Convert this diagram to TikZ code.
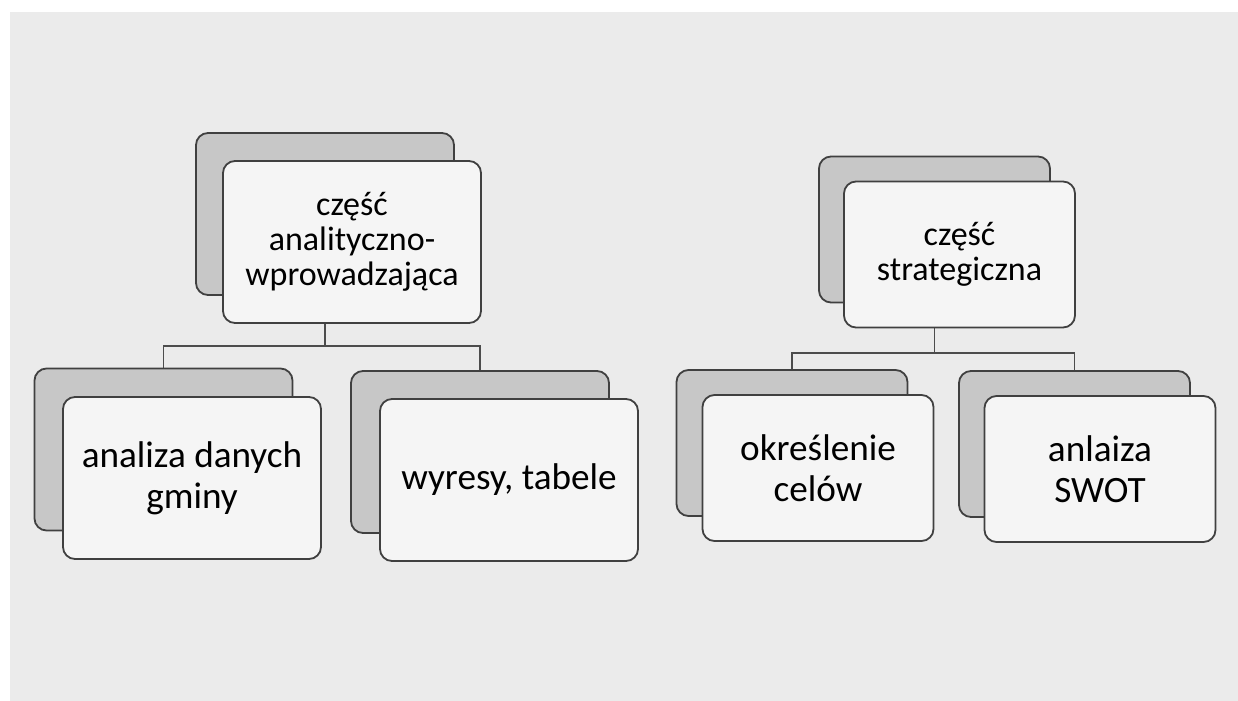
\documentclass[tikz,border=0pt]{standalone}
\usepackage{fontspec}
\setmainfont{Carlito}
\usetikzlibrary{backgrounds}

\tikzset{
  card/.style={draw=black!75, line width=0.9pt, rounded corners=6pt, align=center, inner sep=0pt},
  backcard/.style={card, fill=black!22},
  frontcard/.style={card, fill=black!4},
  leftsize/.style={minimum width=129pt, minimum height=81pt},
  rightsize/.style={minimum width=115.5pt, minimum height=73pt},
  toptext/.style={font=\fontsize{17}{17.5}\selectfont},
  subtext/.style={font=\fontsize{18.6}{20.5}\selectfont},
  link/.style={draw=black!70, line width=0.8pt},
}

\begin{document}
\begin{tikzpicture}[x=0.5pt,y=-0.5pt]
  \useasboundingbox (0,0) rectangle (1238,701);
  % left part
  \node[backcard,leftsize] (p1b) at (325,214) {};
  \node[frontcard,leftsize,toptext] (p1f) at (352,242) {część\\analityczno-\\wprowadzająca};
  \node[backcard,leftsize] (c1b) at (163.5,449.5) {};
  \node[frontcard,leftsize,subtext] (c1f) at (192,478) {analiza danych\\gminy};
  \node[backcard,leftsize] (c2b) at (480,452) {};
  \node[frontcard,leftsize,subtext] (c2f) at (509,480) {wyresy, tabele};
  % right part
  \node[backcard,rightsize] (p2b) at (934.5,229.5) {};
  \node[frontcard,rightsize,toptext] (p2f) at (959.5,254.5) {część\\strategiczna};
  \node[backcard,rightsize] (c3b) at (792,443) {};
  \node[frontcard,rightsize,subtext] (c3f) at (818,468) {określenie\\celów};
  \node[backcard,rightsize] (c4b) at (1074.5,444) {};
  \node[frontcard,rightsize,subtext] (c4f) at (1100,469) {anlaiza\\SWOT};
  % connectors behind the cards
  \begin{scope}[on background layer]
    \fill[black!8] (10,12) rectangle (1238,701);
    \coordinate (j1) at (323,346);
    \coordinate (j2) at (934,353);
    \draw[link] (p1b.south) -- (p1b.south |- j1);
    \draw[link] (c1b.north) |- (j1) -| (c2b.north);
    \draw[link] (p2b.south) -- (p2b.south |- j2);
    \draw[link] (c3b.north) |- (j2) -| (c4b.north);
  \end{scope}
\end{tikzpicture}
\end{document}
